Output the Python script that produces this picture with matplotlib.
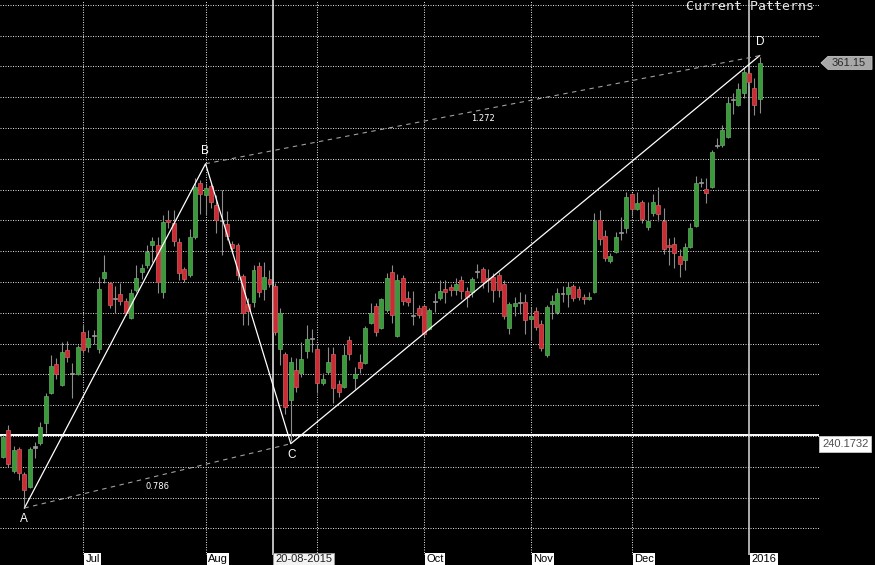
import matplotlib
matplotlib.use('Agg')
import matplotlib.pyplot as plt
import matplotlib.transforms as mtransforms
from matplotlib.patches import Polygon
import numpy as np

# ---------------- data ----------------
opens = [233.2, 242.0, 228.6, 235.8, 227.7, 223.4, 236.2, 237.7, 244.2, 254.0,
         263.4, 256.6, 267.9, 260.1, 260.1, 273.8, 268.9, 272.5, 268.2, 291.3,
         289.7, 284.5, 286.1, 283.8, 278.3, 287.4, 293.3, 295.5, 302.0, 302.0,
         286.8, 310.1, 309.2, 303.0, 294.2, 292.3, 304.6, 322.2, 318.3, 321.2,
         315.0, 309.8, 308.8, 302.3, 302.0, 292.0, 282.9, 283.5, 295.2, 287.7,
         291.0, 288.7, 268.2, 266.6, 251.7, 261.4, 260.5, 267.6, 271.5, 268.2,
         257.2, 260.8, 266.6, 256.9, 255.9, 271.2, 258.8, 264.0, 263.7, 276.7,
         282.2, 275.1, 280.9, 293.3, 272.5, 291.3, 284.8, 279.0, 281.6, 282.2,
         274.7, 283.5, 284.8, 287.7, 288.4, 287.4, 290.7, 287.1, 286.8, 293.3,
         294.2, 291.3, 291.6, 292.3, 289.4, 275.1, 282.2, 283.2, 283.5, 278.0,
         280.6, 276.4, 266.3, 282.9, 280.3, 286.1, 286.1, 288.7, 287.7, 285.1,
         284.5, 286.8, 310.1, 304.9, 296.8, 299.7, 305.9, 307.5, 318.6, 313.7,
         316.0, 307.9, 312.4, 315.0, 309.8, 302.0, 302.3, 298.4, 297.1, 301.4,
         308.2, 322.2, 320.2, 320.9, 334.2, 334.5, 337.1, 349.1, 347.5, 351.4,
         357.9, 353.0, 349.4]
highs = [240.3, 243.6, 236.8, 236.4, 228.3, 236.4, 238.1, 244.5, 254.0, 266.3,
         265.3, 270.5, 270.8, 263.7, 269.5, 276.0, 274.4, 274.4, 291.6, 298.8,
         290.0, 288.7, 289.7, 284.8, 287.7, 295.5, 295.8, 302.0, 304.6, 304.6,
         311.8, 313.4, 313.4, 304.3, 294.9, 307.2, 323.8, 323.1, 322.2, 321.8,
         318.3, 319.9, 313.1, 303.3, 302.7, 292.6, 284.8, 295.5, 296.5, 296.5,
         293.9, 289.7, 281.6, 267.3, 265.7, 265.3, 270.5, 276.0, 274.7, 269.5,
         260.5, 268.9, 268.9, 258.2, 269.5, 272.5, 262.4, 266.6, 275.7, 283.2,
         283.2, 284.8, 292.9, 295.5, 292.6, 292.3, 287.1, 287.1, 282.5, 282.5,
         281.6, 286.4, 290.7, 290.7, 289.4, 291.3, 292.0, 288.4, 291.6, 295.8,
         294.9, 294.2, 292.9, 293.3, 290.7, 283.5, 285.1, 286.8, 286.1, 281.9,
         281.9, 277.7, 282.5, 285.8, 288.1, 288.7, 290.0, 289.4, 288.7, 286.1,
         286.8, 312.4, 313.4, 306.9, 299.4, 306.2, 311.1, 319.2, 318.9, 319.2,
         316.6, 316.0, 318.6, 320.9, 314.0, 304.3, 304.6, 300.7, 302.7, 309.2,
         324.4, 323.8, 323.8, 332.9, 336.8, 341.0, 350.1, 351.4, 354.6, 359.5,
         358.5, 356.2, 363.1]
lows = [232.9, 229.9, 228.0, 225.7, 216.6, 223.1, 232.9, 237.1, 241.0, 253.6,
        258.5, 256.2, 264.0, 252.3, 259.8, 267.0, 267.3, 269.9, 267.0, 289.7,
        281.6, 279.9, 282.5, 279.3, 278.0, 286.8, 291.0, 294.5, 296.5, 286.4,
        284.8, 307.5, 301.7, 290.7, 290.0, 291.6, 304.0, 312.1, 311.8, 314.0,
        305.9, 298.8, 303.6, 299.4, 290.7, 276.0, 276.0, 281.9, 285.1, 284.2,
        288.4, 272.8, 263.1, 247.1, 238.4, 254.3, 259.2, 265.3, 267.3, 254.0,
        256.6, 260.1, 250.7, 252.7, 255.6, 264.7, 255.3, 260.5, 263.4, 276.4,
        272.5, 274.7, 280.3, 276.7, 272.1, 282.5, 282.2, 276.0, 278.3, 272.1,
        274.4, 280.3, 284.2, 283.2, 285.5, 285.8, 284.5, 281.9, 285.1, 291.3,
        288.1, 286.8, 283.5, 285.1, 278.0, 273.0, 279.0, 279.6, 273.0, 271.2,
        274.4, 267.6, 265.7, 278.0, 279.6, 283.5, 281.9, 283.8, 284.2, 282.9,
        284.2, 286.4, 302.0, 296.8, 296.2, 299.4, 303.6, 305.9, 311.4, 313.4,
        309.2, 306.9, 311.4, 309.8, 299.1, 295.5, 294.5, 291.6, 293.9, 301.0,
        307.9, 320.9, 315.7, 320.5, 333.5, 333.8, 336.8, 344.6, 347.2, 349.7,
        354.0, 344.2, 344.9]
closes = [239.7, 230.9, 235.5, 228.0, 222.5, 235.8, 236.2, 242.9, 253.0, 262.7,
          260.1, 267.3, 265.7, 260.1, 268.9, 267.9, 271.8, 272.5, 287.7, 293.3,
          282.5, 284.5, 283.8, 279.9, 286.4, 291.3, 294.5, 299.7, 303.3, 290.0,
          309.5, 309.5, 303.3, 292.9, 291.0, 304.6, 320.9, 318.6, 320.5, 316.0,
          310.1, 309.8, 304.9, 301.0, 292.3, 279.9, 280.6, 293.9, 286.8, 291.6,
          289.4, 273.8, 279.9, 249.4, 264.0, 255.9, 265.0, 271.5, 271.5, 257.2,
          258.5, 264.0, 255.6, 254.3, 266.3, 266.6, 260.1, 262.1, 275.1, 279.9,
          273.8, 284.5, 291.3, 279.3, 290.7, 283.8, 283.5, 279.0, 279.3, 273.1,
          280.9, 283.5, 287.1, 286.8, 287.4, 289.4, 287.1, 285.1, 291.0, 293.3,
          290.0, 290.7, 287.4, 287.4, 279.0, 282.9, 283.2, 283.2, 277.7, 279.0,
          275.4, 268.6, 281.9, 283.8, 286.4, 286.1, 288.4, 284.8, 285.1, 284.5,
          285.1, 309.8, 304.0, 297.8, 298.4, 304.6, 305.9, 317.6, 313.7, 315.7,
          310.5, 309.8, 316.0, 312.1, 300.7, 301.4, 299.4, 295.8, 301.4, 307.5,
          322.2, 322.2, 318.9, 332.2, 334.2, 339.4, 348.1, 349.1, 352.7, 358.2,
          354.9, 347.5, 361.15]

month_labels = ['Jul', 'Aug', 'Oct', 'Nov', 'Dec', '2016']
month_pos = [15, 38, 79, 99, 118, 140]
grid_vpos = [15, 38, 59, 79, 99, 118]
grid_prices = list(range(210, 390, 10))

pattern_names = ['A', 'B', 'C', 'D']
pattern_idx = [4, 38, 54, 142]
pattern_price = [216.6, 328.4, 237.5, 363.5]
ratio_labels = ['0.786', '1.272']

level_price = 240.1732
cursor_pos = 50.66
cursor_label = '20-08-2015'
year_line_pos = 140
title = 'Current Patterns'

# ---------------- figure ----------------
W, H = 875, 565
fig = plt.figure(figsize=(W / 100, H / 100), dpi=100, facecolor='black')
ax = fig.add_axes([0, 10 / H, 819 / W, 555 / H])
ax.set_facecolor('black')
ax.set_xlim(-0.58, 153.14)
ax.set_ylim(201.36, 381.57)
ax.set_axis_off()

grid_kw = dict(color='#d4d4d4', lw=0.75, ls=(0, (1, 1.4)), zorder=1)
for p in grid_prices:
    ax.axhline(p, **grid_kw)
for v in grid_vpos:
    ax.axvline(v, **grid_kw)

ax.axhline(level_price, color='white', lw=1.4, zorder=2)
ax.axvline(cursor_pos, color='#f0f0f0', lw=1.1, zorder=2)
ax.axvline(year_line_pos, color='#dcdcdc', lw=1.1, zorder=2)

# ---------------- candles ----------------
n = len(closes)
x = np.arange(n)
o = np.array(opens)
c = np.array(closes)
face, edge = [], []
for oo, cc in zip(o, c):
    if cc > oo:
        face.append('#3a9a3a'); edge.append('#62ad62')
    elif cc < oo:
        face.append('#cc2b33'); edge.append('#d46060')
    else:
        face.append('#9a9a9a'); edge.append('#9a9a9a')
ax.vlines(x, lows, highs, color='#8c8c8c', lw=0.8, zorder=3)
bottoms = np.minimum(o, c)
heights = np.maximum(np.abs(c - o), 0.4)
ax.bar(x, heights, bottom=bottoms, width=0.74, color=face, edgecolor=edge,
       linewidth=0.5, zorder=4)

# ---------------- ABCD pattern ----------------
ax.plot(pattern_idx, pattern_price, color='white', lw=0.9, zorder=5)
dash_kw = dict(color='#a0a0a0', lw=0.8, dashes=(4, 4), zorder=5)
ax.plot([pattern_idx[0], pattern_idx[2]], [pattern_price[0], pattern_price[2]], **dash_kw)
ax.plot([pattern_idx[1], pattern_idx[3]], [pattern_price[1], pattern_price[3]], **dash_kw)

name_offsets = [(-0.7, -7.9), (-0.5, 9.4), (0.4, -8.3), (0.5, 9.9)]
for nm, xi, yi, off in zip(pattern_names, pattern_idx, pattern_price, name_offsets):
    ax.annotate(nm, xy=(xi, yi), xytext=off, textcoords='offset points',
                ha='center', va='center', color='white', fontsize=8.5,
                family='Liberation Sans', zorder=6)

pairs = [(0, 2), (1, 3)]
ratio_offsets = [(0, -8), (0, -6)]
for lab, (a, b), off in zip(ratio_labels, pairs, ratio_offsets):
    mx = (pattern_idx[a] + pattern_idx[b]) / 2
    my = (pattern_price[a] + pattern_price[b]) / 2
    ax.annotate(lab, xy=(mx, my), xytext=off, textcoords='offset points',
                ha='center', va='center', color='white', fontsize=6,
                family='DejaVu Sans', zorder=6)

# ---------------- bottom date labels ----------------
bl = mtransforms.blended_transform_factory(ax.transData, fig.transFigure)
lab_y = 1 - 554.5 / H
for lab, pos in zip(month_labels, month_pos):
    ax.annotate(lab, xy=(pos, lab_y), xycoords=bl, xytext=(1.8, 0),
                textcoords='offset points', ha='left', va='top', fontsize=8,
                family='Liberation Sans', color='black', annotation_clip=False,
                bbox=dict(boxstyle='square,pad=0.12', fc='white', ec='none'))
ax.annotate(cursor_label, xy=(cursor_pos, lab_y), xycoords=bl, xytext=(1.5, 0),
            textcoords='offset points', ha='left', va='top', fontsize=8,
            family='Liberation Sans', color='#202020', annotation_clip=False,
            bbox=dict(boxstyle='square,pad=0.15', fc='#f2f2f2', ec='#9a9a9a', lw=0.7))

# ---------------- right value labels ----------------
br = mtransforms.blended_transform_factory(fig.transFigure, ax.transData)
ax.annotate(f'{level_price:.4f}', xy=(822 / W, level_price), xycoords=br,
            xytext=(0, -2.6), textcoords='offset points', ha='left', va='top',
            fontsize=8, family='Liberation Sans', color='#505050',
            annotation_clip=False,
            bbox=dict(boxstyle='square,pad=0.28', fc='white', ec='#c8c8c8', lw=0.6))

y_disp = ax.transData.transform((0, closes[-1]))[1]
yf = y_disp / H
hh = 6.5 / H
verts = [(821 / W, yf), (828 / W, yf + hh), (872 / W, yf + hh),
         (872 / W, yf - hh), (828 / W, yf - hh)]
fig.add_artist(Polygon(verts, closed=True, transform=fig.transFigure,
                       fc='#a8a8a8', ec='#c4c4c4', lw=0.6))
fig.text(849 / W, yf, f'{closes[-1]:.2f}', ha='center', va='center', fontsize=8,
         family='Liberation Sans', color='#2a2a2a')

# ---------------- title ----------------
fig.text(686 / W, 1 - 10 / H, title, ha='left', va='baseline', fontsize=9.5,
         family='DejaVu Sans Mono', color='#e8e8e8')

fig.savefig('out.png', dpi=100, facecolor='black')
